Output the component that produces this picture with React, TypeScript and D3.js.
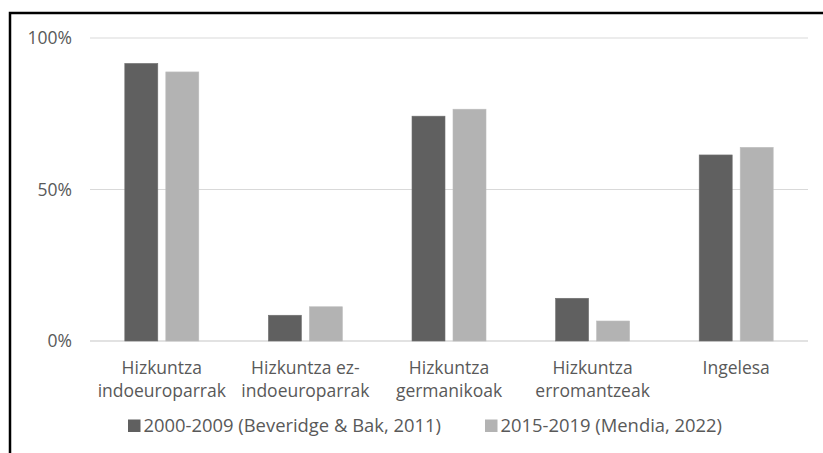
import React from "react";
import { scaleBand, scaleLinear } from "d3";

const categories = [
  ["Hizkuntza", "indoeuroparrak"],
  ["Hizkuntza ez-", "indoeuroparrak"],
  ["Hizkuntza", "germanikoak"],
  ["Hizkuntza", "erromantzeak"],
  ["Ingelesa"],
];
const series2000 = [91.6, 8.5, 74.2, 14.1, 61.4];
const series2015 = [88.8, 11.3, 76.5, 6.6, 63.9];
const seriesNames = ["2000-2009 (Beveridge & Bak, 2011)", "2015-2019 (Mendia, 2022)"];
const yTicks = [0, 50, 100];

const W = 823;
const H = 453;
const plot = { left: 90, right: 808, top: 38, bottom: 341 };
const colors = ["#606060", "#b3b3b3"];
const textColor = "#595959";
const font = "'Open Sans', sans-serif";
const fs = 17.5;
const legendFs = 18.4;

const App: React.FC = () => {
  const x = scaleBand<number>()
    .domain(categories.map((_, i) => i))
    .range([plot.left, plot.right]);
  const y = scaleLinear().domain([0, 100]).range([plot.bottom, plot.top]);
  const barW = 33;
  const gap = 8;

  const series = [series2000, series2015];

  return (
    <svg
      width={W}
      height={H}
      style={{ position: "absolute", left: 0, top: 0, background: "#fff" }}
      fontFamily={font}
    >
      {yTicks.map((t) => (
        <g key={t}>
          <line x1={plot.left} x2={plot.right} y1={y(t)} y2={y(t)} stroke="#d9d9d9" strokeWidth={t === 0 ? 1.5 : 1.2} />
          <text x={72} y={y(t)} dy="0.35em" textAnchor="end" fontSize={fs} fill={textColor}>
            {t}%
          </text>
        </g>
      ))}
      {series.map((vals, si) =>
        vals.map((v, i) => {
          const cx = (x(i) ?? 0) + x.bandwidth() / 2;
          const bx = si === 0 ? cx - gap / 2 - barW : cx + gap / 2;
          return (
            <rect
              key={`${si}-${i}`}
              x={bx}
              y={y(v)}
              width={barW}
              height={y(0) - y(v)}
              fill={colors[si]}
              stroke={si === 0 ? "#707070" : "#bdbdbd"}
              strokeWidth={0.6}
            />
          );
        })
      )}
      {categories.map((lines, i) => {
        const cx = (x(i) ?? 0) + x.bandwidth() / 2;
        return (
          <text key={i} x={cx} y={368} textAnchor="middle" fontSize={fs} fill={textColor}>
            {lines.map((l, j) => (
              <tspan key={j} x={cx} dy={j === 0 ? "0.35em" : 22.5}>
                {l}
              </tspan>
            ))}
          </text>
        );
      })}
      {seriesNames.map((name, si) => {
        const lx = si === 0 ? 128 : 485;
        return (
          <g key={si}>
            <rect x={lx} y={419.5} width={12.5} height={12.5} fill={colors[si]} />
            <text x={lx + 15.5} y={425.5} dy="0.35em" fontSize={legendFs} fill={textColor}>
              {name}
            </text>
          </g>
        );
      })}
      <path d={`M10,${H + 5} V13 H${W + 5}`} fill="none" stroke="#000" strokeWidth={2.5} />
    </svg>
  );
};

export default App;
